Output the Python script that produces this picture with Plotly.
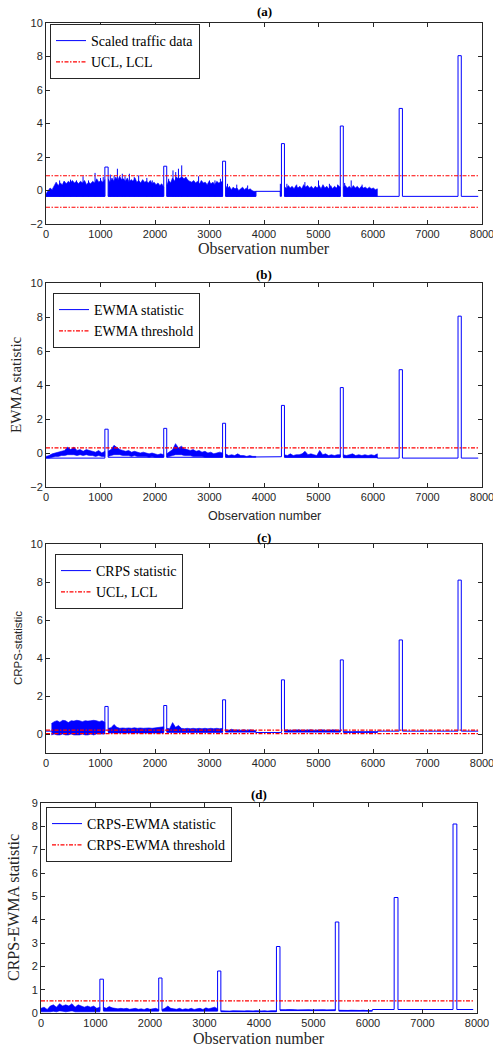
import numpy as np
import plotly.graph_objects as go

# ---------------- data ----------------
x_ticks = [0, 1000, 2000, 3000, 4000, 5000, 6000, 7000, 8000]
x_last = 7930

# (a) scaled traffic data: piecewise levels (incl. fault pulses) and noisy bands
a_lev_start = [0, 1080, 1140, 2160, 2215, 3240, 3295, 3850, 4300, 4320, 4375, 5400, 5455, 6480, 6540, 7560, 7620]
a_lev_end = [1080, 1140, 2160, 2215, 3240, 3295, 3850, 4300, 4320, 4375, 5400, 5455, 6480, 6540, 7560, 7620, 7930]
a_lev_value = [-0.35, 1.4, -0.35, 1.45, -0.35, 1.75, -0.35, -0.05, -0.35, 2.8, -0.35, 3.85, -0.35, 4.9, -0.35, 8.05, -0.35]
a_band_start = [0, 1140, 2215, 3295, 4375, 5455]
a_band_end = [1080, 2160, 3240, 3850, 5400, 6080]
a_band_lo = [-0.35, -0.35, -0.35, -0.35, -0.35, -0.35]
a_band_hi = [
    [-0.2, 0.0, 0.15, 0.05, 0.3, 0.5, 0.3, 0.45, 0.35, 0.55, 0.4, 0.55, 0.45, 0.6, 0.45, 0.55, 0.4, 0.55, 0.45, 0.6, 0.35, 0.5, 0.4, 0.55, 0.45, 0.7, 0.5, 0.6, 0.5, 0.65],
    [0.7, 0.5, 0.75, 0.55, 0.8, 0.6, 0.85, 0.65, 0.7, 0.55, 0.75, 0.5, 0.65, 0.55, 0.75, 0.5, 0.6, 0.45, 0.65, 0.5, 0.55, 0.45, 0.6, 0.4, 0.5, 0.35, 0.45, 0.3, 0.4, 0.2],
    [0.3, 0.6, 0.45, 0.75, 0.55, 0.8, 0.7, 0.75, 0.8, 0.7, 0.8, 0.6, 0.55, 0.5, 0.6, 0.45, 0.55, 0.4, 0.6, 0.45, 0.5, 0.35, 0.55, 0.4, 0.5, 0.35, 0.55, 0.45, 0.5, 0.55],
    [0.3, 0.1, 0.25, 0.05, 0.2, 0.1, 0.15, 0.0, 0.1, 0.2, 0.05, 0.15, 0.05, 0.1, 0.0, -0.05, -0.05],
    [0.25, 0.1, 0.3, 0.15, 0.25, 0.1, 0.3, 0.15, 0.25, 0.1, 0.35, 0.2, 0.3, 0.15, 0.25, 0.1, 0.25, 0.15, 0.3, 0.1, 0.35, 0.15, 0.25, 0.1, 0.3, 0.1, 0.25, 0.15, 0.3, 0.2],
    [0.2, 0.3, 0.15, 0.25, 0.1, 0.3, 0.15, 0.25, 0.1, 0.25, 0.15, 0.2, 0.1, 0.2, 0.1, 0.15, 0.05, 0.1],
]
# individual spikes above the dense band (observation, value)
a_spike_obs = [250, 330, 450, 560, 680, 780, 900, 1000, 1050, 1180, 1250, 1310, 1400, 1450, 1530, 1620, 1700, 1850, 1950,
               2250, 2330, 2380, 2430, 2490, 2600, 2800, 3000, 3100, 3200, 3330, 3500, 3700, 4300, 4420, 4600, 4750,
               5000, 5200, 5350, 5480, 5600, 5800]
a_spike_val = [0.6, 0.55, 0.65, 0.6, 0.85, 0.6, 1.05, 0.75, 0.8, 0.95, 0.9, 1.3, 1.0, 0.85, 1.0, 0.8, 0.9, 0.75, 0.6,
               0.7, 1.2, 1.1, 1.3, 1.5, 0.65, 0.85, 0.6, 0.6, 0.7, 0.4, 0.35, 0.3, 0.4, 0.4, 0.35, 0.5,
               0.6, 0.4, 0.35, 0.45, 0.6, 0.35]
a_ucl = 0.88
a_lcl = -1.0

# (b) EWMA statistic
b_lev_start = [0, 1080, 1140, 2160, 2215, 3240, 3295, 3850, 4320, 4375, 5400, 5455, 6080, 6480, 6540, 7560, 7620]
b_lev_end = [1080, 1140, 2160, 2215, 3240, 3295, 3850, 4320, 4375, 5400, 5455, 6080, 6480, 6540, 7560, 7620, 7930]
b_lev_value = [-0.3, 1.4, -0.25, 1.45, -0.25, 1.75, -0.25, -0.22, 2.8, -0.25, 3.85, -0.25, -0.3, 4.9, -0.3, 8.05, -0.3]
b_band_start = [0, 1140, 2215, 3295, 4375, 5455]
b_band_end = [1080, 2160, 3240, 3850, 5400, 6080]
b_band_hi = [
    [-0.2, -0.15, -0.05, 0.0, 0.05, 0.1, 0.15, 0.35, 0.2, 0.35, 0.15, 0.2, 0.1, 0.2, 0.15, 0.1, 0.05, 0.15, 0.0, 0.1],
    [0.1, 0.2, 0.45, 0.3, 0.2, 0.15, 0.1, 0.15, 0.05, 0.1, 0.05, 0.0, 0.05, 0.0, -0.05, 0.0, -0.05, -0.1, -0.05, -0.1],
    [-0.05, 0.1, 0.2, 0.55, 0.3, 0.4, 0.25, 0.2, 0.15, 0.2, 0.1, 0.15, 0.05, 0.1, 0.0, 0.05, -0.05, 0.0, 0.05, 0.0],
    [-0.05, -0.15, -0.1, -0.15, -0.05, -0.15, -0.15, -0.2, -0.15, -0.2, -0.2],
    [-0.1, -0.15, -0.05, -0.15, -0.1, -0.1, -0.05, 0.1, -0.1, -0.05, -0.1, -0.15, 0.15, -0.1, -0.05, -0.15, -0.1, -0.15, -0.1, -0.1],
    [-0.1, -0.15, -0.1, -0.05, -0.15, -0.1, -0.15, -0.1, -0.15, -0.1, -0.15, -0.05],
]
b_band_lo = [
    [-0.3, -0.3, -0.25, -0.2, -0.2, -0.15, -0.15, -0.1, -0.1, -0.1, -0.15, -0.1, -0.15, -0.1, -0.15, -0.15, -0.2, -0.15, -0.2, -0.2],
    [-0.2, -0.15, -0.1, -0.1, -0.1, -0.15, -0.15, -0.15, -0.2, -0.15, -0.2, -0.2, -0.2, -0.2, -0.25, -0.2, -0.25, -0.25, -0.25, -0.25],
    [-0.25, -0.2, -0.15, -0.1, -0.1, -0.1, -0.15, -0.15, -0.15, -0.2, -0.2, -0.2, -0.2, -0.25, -0.25, -0.25, -0.25, -0.25, -0.25, -0.25],
    -0.25,
    -0.25,
    -0.28,
]
b_threshold = 0.3

# (c) CRPS statistic
c_lev_start = [0, 1080, 1140, 2160, 2215, 3240, 3295, 3850, 4320, 4375, 5400, 5455, 6080, 6480, 6540, 7560, 7620]
c_lev_end = [1080, 1140, 2160, 2215, 3240, 3295, 3850, 4320, 4375, 5400, 5455, 6080, 6480, 6540, 7560, 7620, 7930]
c_lev_value = [0.15, 1.45, 0.12, 1.5, 0.12, 1.8, 0.12, 0.08, 2.85, 0.12, 3.9, 0.1, 0.15, 4.95, 0.15, 8.1, 0.15]
c_band_start = [100, 1140, 2215, 3295, 4375, 5455]
c_band_end = [1080, 2160, 3240, 3850, 5400, 6080]
c_band_hi = [
    [0.55, 0.65, 0.7, 0.62, 0.72, 0.7, 0.6, 0.7, 0.68, 0.72, 0.7, 0.65, 0.7, 0.68, 0.7, 0.72, 0.7, 0.65, 0.7, 0.62],
    [0.3, 0.33, 0.5, 0.35, 0.3, 0.32, 0.3, 0.32, 0.3, 0.33, 0.3, 0.32, 0.3, 0.33, 0.32, 0.3, 0.33, 0.35, 0.35, 0.38],
    [0.3, 0.28, 0.6, 0.35, 0.45, 0.3, 0.28, 0.3, 0.28, 0.3, 0.28, 0.3, 0.28, 0.3, 0.28, 0.3, 0.28, 0.3, 0.28, 0.3],
    [0.22, 0.2, 0.25, 0.2, 0.22, 0.2, 0.22, 0.2, 0.22, 0.2, 0.18],
    [0.2, 0.22, 0.2, 0.21, 0.2, 0.22, 0.2, 0.21, 0.2, 0.22, 0.2, 0.21, 0.2, 0.22, 0.2, 0.21, 0.2, 0.22, 0.2, 0.2],
    [0.13, 0.12, 0.13, 0.12, 0.13, 0.12, 0.13, 0.12, 0.13, 0.12, 0.13, 0.12],
]
c_band_lo = [
    [-0.05, 0.0, -0.05, -0.05, 0.0, -0.05, -0.05, 0.0, -0.05, -0.05, -0.05, 0.0, -0.05, -0.05, 0.0, -0.05, 0.0, 0.0, 0.0, 0.0],
    0.05,
    0.08,
    0.1,
    0.1,
    0.08,
]
c_ucl = 0.2
c_lcl = 0.02

# (d) CRPS-EWMA statistic
d_lev_start = [0, 1080, 1145, 2160, 2220, 3240, 3300, 4320, 4385, 5400, 5465, 6080, 6480, 6550, 7560, 7630]
d_lev_end = [1080, 1145, 2160, 2220, 3240, 3300, 4320, 4385, 5400, 5465, 6080, 6480, 6550, 7560, 7630, 7930]
d_lev_value = [0.1, 1.45, 0.1, 1.5, 0.1, 1.8, 0.07, 2.85, 0.12, 3.9, 0.1, 0.15, 4.95, 0.15, 8.1, 0.15]
d_band_start = [0, 1145, 2220, 3300, 4385, 5465]
d_band_end = [1080, 2160, 3240, 4320, 5400, 6080]
d_band_hi = [
    [0.2, 0.25, 0.15, 0.3, 0.35, 0.25, 0.4, 0.3, 0.35, 0.3, 0.4, 0.25, 0.35, 0.3, 0.25, 0.3, 0.25, 0.3, 0.2, 0.25],
    [0.25, 0.2, 0.28, 0.22, 0.2, 0.18, 0.2, 0.18, 0.2, 0.16, 0.18, 0.2, 0.16, 0.18, 0.15, 0.2, 0.16, 0.18, 0.2, 0.15],
    [0.15, 0.2, 0.3, 0.2, 0.18, 0.16, 0.2, 0.15, 0.18, 0.16, 0.2, 0.15, 0.18, 0.2, 0.15, 0.22, 0.18, 0.2, 0.25, 0.18],
    [0.1, 0.09, 0.1, 0.08, 0.1, 0.09, 0.1, 0.08, 0.09, 0.1, 0.08, 0.09, 0.1, 0.08, 0.09, 0.1, 0.08, 0.1, 0.09, 0.1],
    [0.14, 0.13, 0.14, 0.15, 0.13, 0.14, 0.13, 0.14, 0.15, 0.13, 0.14, 0.13, 0.14, 0.15, 0.13, 0.14, 0.13, 0.14, 0.13, 0.14],
    [0.12, 0.11, 0.12, 0.11, 0.12, 0.11, 0.12, 0.11, 0.12, 0.11, 0.12, 0.11],
]
d_band_lo = [
    [0.05, 0.03, 0.05, 0.05, 0.08, 0.05, 0.1, 0.08, 0.05, 0.08, 0.1, 0.05, 0.08, 0.05, 0.05, 0.08, 0.05, 0.05, 0.05, 0.05],
    0.08,
    0.08,
    0.05,
    0.1,
    0.08,
]
d_threshold = 0.52

# ---------------- helpers ----------------
BLUE = "rgb(0,0,255)"
RED = "rgb(255,0,0)"
AX = "#262626"
SERIF = "Liberation Serif"
SANS = "Liberation Sans"
W, H = 493, 1048


def level_path(starts, ends, values):
    xs, ys = [], []
    for s, e, v in zip(starts, ends, values):
        xs += [s, e]
        ys += [v, v]
    return xs, ys


def band_polys(starts, ends, his, los):
    xs, ys = [], []
    for s, e, hi, lo in zip(starts, ends, his, los):
        hi = np.asarray(hi, dtype=float)
        lo = np.full(len(hi), lo) if np.isscalar(lo) else np.asarray(lo, dtype=float)
        xx = np.linspace(s, e, len(hi))
        xs += list(xx) + list(xx[::-1]) + [None]
        ys += list(hi) + list(lo[::-1]) + [None]
    return xs, ys


def spike_path(obs, vals, base):
    xs, ys = [], []
    for o, v in zip(obs, vals):
        xs += [o, o, None]
        ys += [base, v, None]
    return xs, ys


fig = go.Figure()

panels = [
    dict(k="", lev=(a_lev_start, a_lev_end, a_lev_value), band=(a_band_start, a_band_end, a_band_hi, a_band_lo),
         name="Scaled traffic data", red=[a_ucl, a_lcl], rname="UCL, LCL", leg="legend",
         spikes=(a_spike_obs, a_spike_val, -0.35)),
    dict(k="2", lev=(b_lev_start, b_lev_end, b_lev_value), band=(b_band_start, b_band_end, b_band_hi, b_band_lo),
         name="EWMA statistic", red=[b_threshold], rname="EWMA threshold", leg="legend2", spikes=None),
    dict(k="3", lev=(c_lev_start, c_lev_end, c_lev_value), band=(c_band_start, c_band_end, c_band_hi, c_band_lo),
         name="CRPS statistic", red=[c_ucl, c_lcl], rname="UCL, LCL", leg="legend3", spikes=None),
    dict(k="4", lev=(d_lev_start, d_lev_end, d_lev_value), band=(d_band_start, d_band_end, d_band_hi, d_band_lo),
         name="CRPS-EWMA statistic", red=[d_threshold], rname="CRPS-EWMA threshold", leg="legend4", spikes=None),
]

for p in panels:
    xa, ya = "x" + p["k"], "y" + p["k"]
    bx, by = band_polys(*p["band"])
    fig.add_trace(go.Scatter(x=bx, y=by, xaxis=xa, yaxis=ya, mode="lines", fill="toself",
                             fillcolor=BLUE, line=dict(color=BLUE, width=0.6),
                             showlegend=False, hoverinfo="skip", legend=p["leg"]))
    if p["spikes"] is not None:
        sx, sy = spike_path(*p["spikes"])
        fig.add_trace(go.Scatter(x=sx, y=sy, xaxis=xa, yaxis=ya, mode="lines",
                                 line=dict(color=BLUE, width=1), showlegend=False, hoverinfo="skip",
                                 legend=p["leg"]))
    lx, ly = level_path(*p["lev"])
    fig.add_trace(go.Scatter(x=lx, y=ly, xaxis=xa, yaxis=ya, mode="lines", name=p["name"],
                             line=dict(color=BLUE, width=1), legend=p["leg"]))
    for i, r in enumerate(p["red"]):
        fig.add_trace(go.Scatter(x=[0, x_last], y=[r, r], xaxis=xa, yaxis=ya, mode="lines",
                                 name=p["rname"], legendgroup=p["rname"] + p["k"],
                                 showlegend=(i == 0), legend=p["leg"],
                                 line=dict(color=RED, width=1.2, dash="4px,1.5px,1.5px,1.5px")))

# ---------------- layout ----------------
def px_x(v):
    return v / W


def px_y(v):
    return 1 - v / H


axis_style = dict(showline=True, linecolor=AX, linewidth=1, mirror="ticks", ticks="inside", ticklen=4,
                  tickcolor=AX, showgrid=False, zeroline=False, ticklabeloverflow="allow",
                  tickfont=dict(family=SANS, size=11, color=AX))

geo = [  # (left, right, top, bottom) px
    (46, 482, 23, 224),
    (46, 482, 283, 487),
    (46, 482, 544, 753),
    (41, 477, 803, 1013),
]
yranges = [[-2, 10], [-2, 10], [-1, 10], [0, 9]]
ytickvals = [[-2, 0, 2, 4, 6, 8, 10], [-2, 0, 2, 4, 6, 8, 10], [0, 2, 4, 6, 8, 10], [0, 1, 2, 3, 4, 5, 6, 7, 8, 9]]

lay = dict(width=W, height=H, margin=dict(l=0, r=0, t=0, b=0, autoexpand=False), paper_bgcolor="white",
           plot_bgcolor="white", showlegend=True)
for i, ((l, r, t, b), yr, tv) in enumerate(zip(geo, yranges, ytickvals)):
    k = "" if i == 0 else str(i + 1)
    lay["xaxis" + k] = dict(axis_style, domain=[px_x(l), px_x(r)], range=[0, 8000], tickvals=x_ticks,
                            anchor="y" + k)
    lay["yaxis" + k] = dict(axis_style, domain=[px_y(b), px_y(t)], range=yr, tickvals=tv,
                            anchor="x" + k)

legend_pos = [(50, 24), (53, 293), (55, 554), (46, 807)]
for i, (lx, ly) in enumerate(legend_pos):
    k = "legend" if i == 0 else "legend" + str(i + 1)
    lay[k] = dict(x=px_x(lx), y=px_y(ly), xanchor="left", yanchor="top", xref="paper", yref="paper",
                  bgcolor="white", bordercolor="#262626", borderwidth=1,
                  font=dict(family=SERIF, size=14, color="black"), tracegroupgap=0,
                  itemwidth=30)

fig.update_layout(**lay)

ann = []
for txt, cx, cy in [("(a)", 264, 12), ("(b)", 264, 274), ("(c)", 264, 537), ("(d)", 259, 795)]:
    ann.append(dict(text="<b>" + txt + "</b>", x=px_x(cx), y=px_y(cy), xref="paper", yref="paper",
                    showarrow=False, font=dict(family=SERIF, size=13, color="black"),
                    xanchor="center", yanchor="middle"))
for txt, cx, cy, fam, sz in [("Observation number", 264, 248, SERIF, 16),
                              ("Observation number", 264, 516, SANS, 12.5),
                              ("Observation number", 259, 1038, SERIF, 16)]:
    ann.append(dict(text=txt, x=px_x(cx), y=px_y(cy), xref="paper", yref="paper", showarrow=False,
                    font=dict(family=fam, size=sz, color=AX), xanchor="center", yanchor="middle"))
for txt, cx, cy, fam, sz in [("EWMA statistic", 16, 385, SERIF, 15),
                              ("CRPS-statistic", 18, 648, SANS, 11.5),
                              ("CRPS-EWMA statistic", 13, 908, SERIF, 16)]:
    ann.append(dict(text=txt, x=px_x(cx), y=px_y(cy), xref="paper", yref="paper", showarrow=False,
                    textangle=-90, font=dict(family=fam, size=sz, color=AX),
                    xanchor="center", yanchor="middle"))
fig.update_layout(annotations=ann)

fig.write_html("out.html", config={"displayModeBar": False},
               post_script="document.body.style.margin='0';document.body.style.padding='0';"
                           "document.documentElement.style.overflow='hidden';")
